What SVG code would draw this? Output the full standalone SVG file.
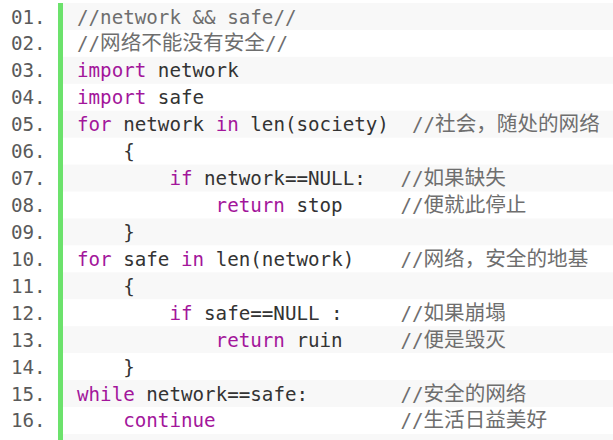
<svg xmlns="http://www.w3.org/2000/svg" width="613" height="440" viewBox="0 0 613 440">
<style>
.bg{fill:#ffffff}
.odd{fill:#f8f8f8}
.bar{fill:#6ce26c}
.ln{font-family:"DejaVu Sans Mono","Liberation Mono",monospace;font-size:19.2px;fill:#5a5a5a}
.code{font-family:"DejaVu Sans Mono","Liberation Mono",monospace;font-size:19.2px;fill:#333333;white-space:pre}
.kw{fill:#a3169b}
.cm{fill:#6e6e6e}
.cjk{font-family:"Noto Sans CJK SC","Noto Sans",sans-serif;font-size:20.6px;fill:#6e6e6e}
</style>
<rect class="bg" x="0" y="0" width="613" height="440"/>
<g id="rows">
<rect class="odd" x="63" y="3" width="550" height="26.93"/>
<rect class="odd" x="63" y="56.86" width="550" height="26.93"/>
<rect class="odd" x="63" y="110.72" width="550" height="26.93"/>
<rect class="odd" x="63" y="164.58" width="550" height="26.93"/>
<rect class="odd" x="63" y="218.44" width="550" height="26.93"/>
<rect class="odd" x="63" y="272.3" width="550" height="26.93"/>
<rect class="odd" x="63" y="326.16" width="550" height="26.93"/>
<rect class="odd" x="63" y="380.02" width="550" height="26.93"/>
<rect class="odd" x="63" y="433.88" width="550" height="6.12"/>
</g>
<rect id="gutter-bar" class="bar" x="58" y="3" width="5" height="437"/>
<g id="line-numbers" class="ln">
<text x="11" y="23.5">01.</text>
<text x="11" y="50.43">02.</text>
<text x="11" y="77.36">03.</text>
<text x="11" y="104.29">04.</text>
<text x="11" y="131.22">05.</text>
<text x="11" y="158.15">06.</text>
<text x="11" y="185.08">07.</text>
<text x="11" y="212.01">08.</text>
<text x="11" y="238.94">09.</text>
<text x="11" y="265.87">10.</text>
<text x="11" y="292.8">11.</text>
<text x="11" y="319.73">12.</text>
<text x="11" y="346.66">13.</text>
<text x="11" y="373.59">14.</text>
<text x="11" y="400.52">15.</text>
<text x="11" y="427.45">16.</text>
</g>
<g id="code">
<text class="code cm" x="77" y="23.5">//network &amp;&amp; safe//</text>
<text class="code cm" x="77" y="50.43">//</text>
<text class="cjk" x="100.1" y="50.43">网络不能没有安全</text>
<text class="code cm" x="264.9" y="50.43">//</text>
<text class="code" x="77" y="77.36"><tspan class="kw">import</tspan> network</text>
<text class="code" x="77" y="104.29"><tspan class="kw">import</tspan> safe</text>
<text class="code" x="77" y="131.22"><tspan class="kw">for</tspan> network <tspan class="kw">in</tspan> len(society)</text>
<text class="code" x="123.2" y="158.15">{</text>
<text class="code" x="169.4" y="185.08"><tspan class="kw">if</tspan> network==NULL:</text>
<text class="code" x="215.6" y="212.01"><tspan class="kw">return</tspan> stop</text>
<text class="code" x="123.2" y="238.94">}</text>
<text class="code" x="77" y="265.87"><tspan class="kw">for</tspan> safe <tspan class="kw">in</tspan> len(network)</text>
<text class="code" x="123.2" y="292.8">{</text>
<text class="code" x="169.4" y="319.73"><tspan class="kw">if</tspan> safe==NULL :</text>
<text class="code" x="215.6" y="346.66"><tspan class="kw">return</tspan> ruin</text>
<text class="code" x="123.2" y="373.59">}</text>
<text class="code" x="77" y="400.52"><tspan class="kw">while</tspan> network==safe:</text>
<text class="code kw" x="123.2" y="427.45">continue</text>
</g>
<g id="comments">
<text class="code cm" x="411.95" y="131.22">//</text>
<text class="cjk" x="435.05" y="131.22">社会，随处的网络</text>
<text class="code cm" x="400.4" y="185.08">//</text>
<text class="cjk" x="423.5" y="185.08">如果缺失</text>
<text class="code cm" x="400.4" y="212.01">//</text>
<text class="cjk" x="423.5" y="212.01">便就此停止</text>
<text class="code cm" x="400.4" y="265.87">//</text>
<text class="cjk" x="423.5" y="265.87">网络，安全的地基</text>
<text class="code cm" x="400.4" y="319.73">//</text>
<text class="cjk" x="423.5" y="319.73">如果崩塌</text>
<text class="code cm" x="400.4" y="346.66">//</text>
<text class="cjk" x="423.5" y="346.66">便是毁灭</text>
<text class="code cm" x="400.4" y="400.52">//</text>
<text class="cjk" x="423.5" y="400.52">安全的网络</text>
<text class="code cm" x="400.4" y="427.45">//</text>
<text class="cjk" x="423.5" y="427.45">生活日益美好</text>
</g>
</svg>
